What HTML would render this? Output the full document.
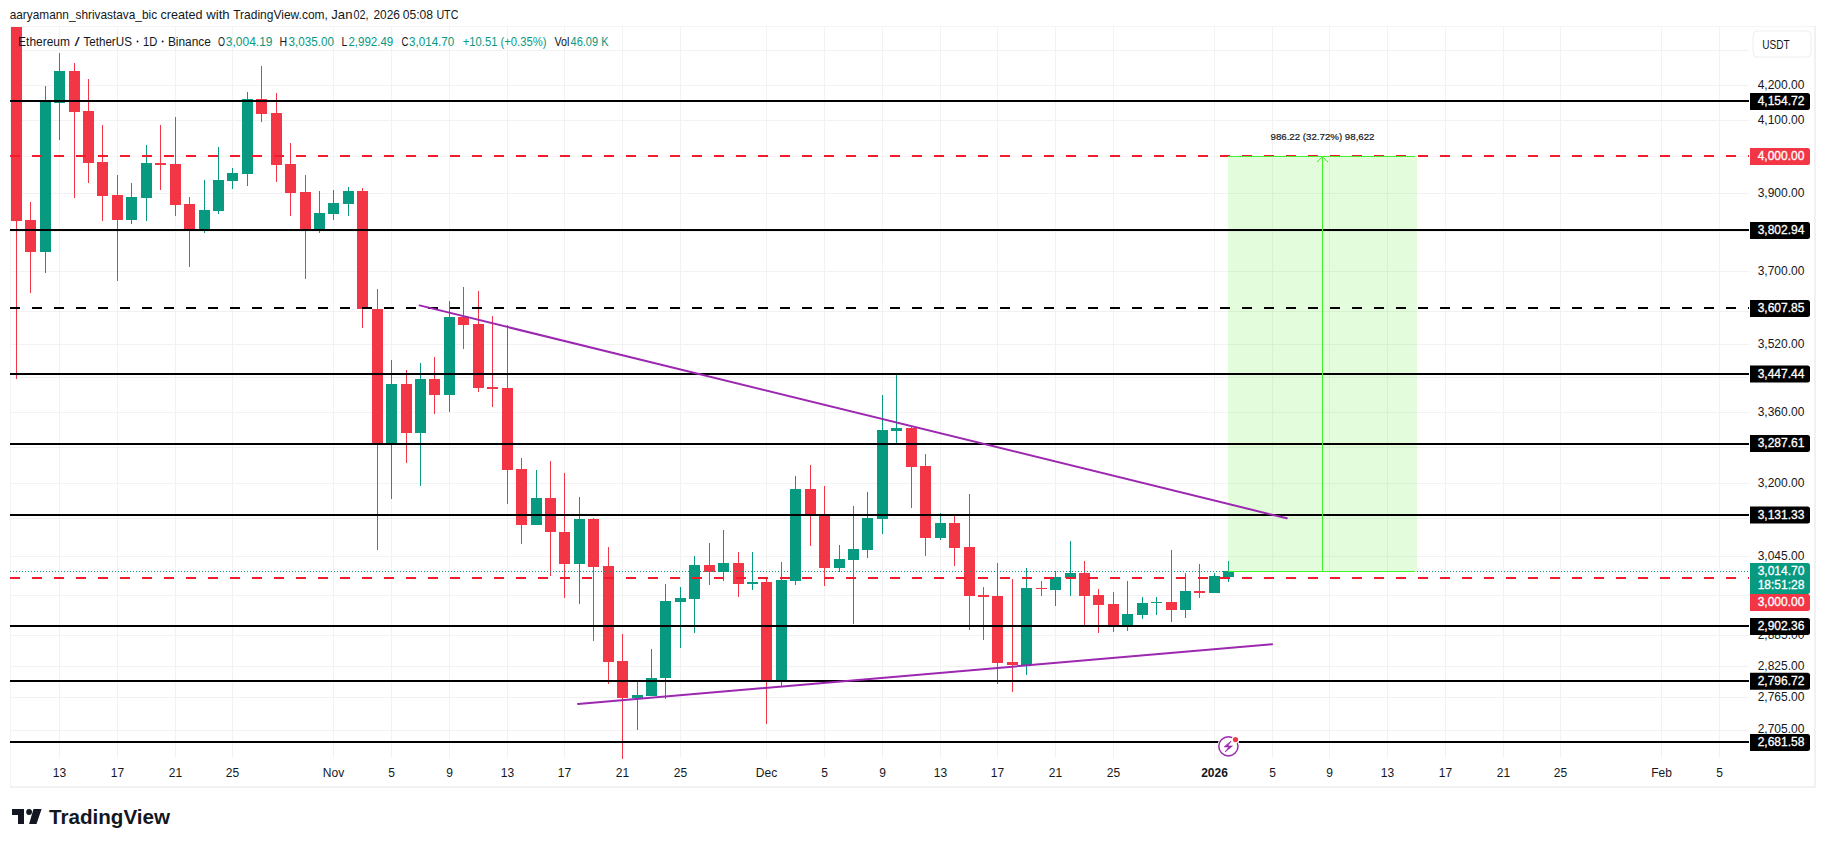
<!DOCTYPE html><html><head><meta charset="utf-8"><style>
html,body{margin:0;padding:0;background:#fff;width:1825px;height:847px;overflow:hidden}
svg{display:block}
text{font-family:"Liberation Sans", sans-serif}
</style></head><body>
<svg width="1825" height="847" viewBox="0 0 1825 847">
<g font-size="13" fill="#131722">
<text x="9.700000000000001" y="19" textLength="147.39999999999998" lengthAdjust="spacingAndGlyphs">aaryamann_shrivastava_bic</text>
<text x="160.5" y="19" textLength="42.000000000000014" lengthAdjust="spacingAndGlyphs">created</text>
<text x="206.3" y="19" textLength="23.399999999999988" lengthAdjust="spacingAndGlyphs">with</text>
<text x="233.20000000000002" y="19" textLength="94.7" lengthAdjust="spacingAndGlyphs">TradingView.com,</text>
<text x="331.29999999999995" y="19" textLength="21.2" lengthAdjust="spacingAndGlyphs">Jan</text>
<text x="353.59999999999997" y="19" textLength="15.00000000000001" lengthAdjust="spacingAndGlyphs">02,</text>
<text x="373.5" y="19" textLength="26.499999999999954" lengthAdjust="spacingAndGlyphs">2026</text>
<text x="402.7" y="19" textLength="30.299999999999965" lengthAdjust="spacingAndGlyphs">05:08</text>
<text x="436.4" y="19" textLength="22.00000000000001" lengthAdjust="spacingAndGlyphs">UTC</text>
</g>
<g shape-rendering="crispEdges">
<rect x="10" y="26" width="1805" height="1" fill="#f3f4f6"/>
<rect x="10" y="26" width="1" height="762" fill="#f3f4f6"/>
<rect x="1814" y="26" width="2" height="762" fill="#f0f1f3"/>
<rect x="10" y="786" width="1806" height="2" fill="#f0f1f3"/>
<rect x="59" y="27" width="1" height="731" fill="#f2f2f3"/>
<rect x="117" y="27" width="1" height="731" fill="#f2f2f3"/>
<rect x="175" y="27" width="1" height="731" fill="#f2f2f3"/>
<rect x="232" y="27" width="1" height="731" fill="#f2f2f3"/>
<rect x="333" y="27" width="1" height="731" fill="#f2f2f3"/>
<rect x="391" y="27" width="1" height="731" fill="#f2f2f3"/>
<rect x="449" y="27" width="1" height="731" fill="#f2f2f3"/>
<rect x="507" y="27" width="1" height="731" fill="#f2f2f3"/>
<rect x="564" y="27" width="1" height="731" fill="#f2f2f3"/>
<rect x="622" y="27" width="1" height="731" fill="#f2f2f3"/>
<rect x="680" y="27" width="1" height="731" fill="#f2f2f3"/>
<rect x="766" y="27" width="1" height="731" fill="#f2f2f3"/>
<rect x="824" y="27" width="1" height="731" fill="#f2f2f3"/>
<rect x="882" y="27" width="1" height="731" fill="#f2f2f3"/>
<rect x="940" y="27" width="1" height="731" fill="#f2f2f3"/>
<rect x="997" y="27" width="1" height="731" fill="#f2f2f3"/>
<rect x="1055" y="27" width="1" height="731" fill="#f2f2f3"/>
<rect x="1113" y="27" width="1" height="731" fill="#f2f2f3"/>
<rect x="1214" y="27" width="1" height="731" fill="#f2f2f3"/>
<rect x="1272" y="27" width="1" height="731" fill="#f2f2f3"/>
<rect x="1329" y="27" width="1" height="731" fill="#f2f2f3"/>
<rect x="1387" y="27" width="1" height="731" fill="#f2f2f3"/>
<rect x="1445" y="27" width="1" height="731" fill="#f2f2f3"/>
<rect x="1503" y="27" width="1" height="731" fill="#f2f2f3"/>
<rect x="1560" y="27" width="1" height="731" fill="#f2f2f3"/>
<rect x="1661" y="27" width="1" height="731" fill="#f2f2f3"/>
<rect x="1719" y="27" width="1" height="731" fill="#f2f2f3"/>
<rect x="11" y="50" width="1738" height="1" fill="#f2f2f3"/>
<rect x="11" y="85" width="1738" height="1" fill="#f2f2f3"/>
<rect x="11" y="120" width="1738" height="1" fill="#f2f2f3"/>
<rect x="11" y="156" width="1738" height="1" fill="#f2f2f3"/>
<rect x="11" y="193" width="1738" height="1" fill="#f2f2f3"/>
<rect x="11" y="231" width="1738" height="1" fill="#f2f2f3"/>
<rect x="11" y="271" width="1738" height="1" fill="#f2f2f3"/>
<rect x="11" y="311" width="1738" height="1" fill="#f2f2f3"/>
<rect x="11" y="344" width="1738" height="1" fill="#f2f2f3"/>
<rect x="11" y="377" width="1738" height="1" fill="#f2f2f3"/>
<rect x="11" y="412" width="1738" height="1" fill="#f2f2f3"/>
<rect x="11" y="447" width="1738" height="1" fill="#f2f2f3"/>
<rect x="11" y="483" width="1738" height="1" fill="#f2f2f3"/>
<rect x="11" y="518" width="1738" height="1" fill="#f2f2f3"/>
<rect x="11" y="556" width="1738" height="1" fill="#f2f2f3"/>
<rect x="11" y="595" width="1738" height="1" fill="#f2f2f3"/>
<rect x="11" y="635" width="1738" height="1" fill="#f2f2f3"/>
<rect x="11" y="666" width="1738" height="1" fill="#f2f2f3"/>
<rect x="11" y="697" width="1738" height="1" fill="#f2f2f3"/>
<rect x="11" y="730" width="1738" height="1" fill="#f2f2f3"/>
</g>
<g shape-rendering="crispEdges">
<rect x="16" y="27" width="1" height="352" fill="#f23645"/>
<rect x="11" y="27" width="11" height="194" fill="#f23645"/>
<rect x="30" y="202" width="1" height="91" fill="#f23645"/>
<rect x="25" y="220" width="11" height="32" fill="#f23645"/>
<rect x="45" y="86" width="1" height="187" fill="#089981"/>
<rect x="40" y="102" width="11" height="150" fill="#089981"/>
<rect x="59" y="53" width="1" height="87" fill="#089981"/>
<rect x="54" y="71" width="11" height="32" fill="#089981"/>
<rect x="74" y="63" width="1" height="135" fill="#f23645"/>
<rect x="69" y="71" width="11" height="41" fill="#f23645"/>
<rect x="88" y="79" width="1" height="104" fill="#f23645"/>
<rect x="83" y="111" width="11" height="52" fill="#f23645"/>
<rect x="102" y="125" width="1" height="96" fill="#f23645"/>
<rect x="97" y="162" width="11" height="34" fill="#f23645"/>
<rect x="117" y="175" width="1" height="106" fill="#f23645"/>
<rect x="112" y="195" width="11" height="25" fill="#f23645"/>
<rect x="131" y="183" width="1" height="41" fill="#089981"/>
<rect x="126" y="197" width="11" height="23" fill="#089981"/>
<rect x="146" y="145" width="1" height="76" fill="#089981"/>
<rect x="141" y="163" width="11" height="35" fill="#089981"/>
<rect x="160" y="125" width="1" height="65" fill="#f23645"/>
<rect x="155" y="163" width="11" height="2" fill="#f23645"/>
<rect x="175" y="117" width="1" height="99" fill="#f23645"/>
<rect x="170" y="164" width="11" height="41" fill="#f23645"/>
<rect x="189" y="197" width="1" height="70" fill="#f23645"/>
<rect x="184" y="204" width="11" height="26" fill="#f23645"/>
<rect x="204" y="180" width="1" height="53" fill="#089981"/>
<rect x="199" y="210" width="11" height="20" fill="#089981"/>
<rect x="218" y="147" width="1" height="67" fill="#089981"/>
<rect x="213" y="180" width="11" height="31" fill="#089981"/>
<rect x="232" y="168" width="1" height="21" fill="#089981"/>
<rect x="227" y="173" width="11" height="8" fill="#089981"/>
<rect x="247" y="92" width="1" height="94" fill="#089981"/>
<rect x="242" y="99" width="11" height="75" fill="#089981"/>
<rect x="261" y="66" width="1" height="56" fill="#f23645"/>
<rect x="256" y="99" width="11" height="15" fill="#f23645"/>
<rect x="276" y="93" width="1" height="89" fill="#f23645"/>
<rect x="271" y="113" width="11" height="52" fill="#f23645"/>
<rect x="290" y="143" width="1" height="73" fill="#f23645"/>
<rect x="285" y="164" width="11" height="29" fill="#f23645"/>
<rect x="305" y="175" width="1" height="104" fill="#f23645"/>
<rect x="300" y="192" width="11" height="37" fill="#f23645"/>
<rect x="319" y="191" width="1" height="42" fill="#089981"/>
<rect x="314" y="213" width="11" height="16" fill="#089981"/>
<rect x="333" y="190" width="1" height="30" fill="#089981"/>
<rect x="328" y="203" width="11" height="11" fill="#089981"/>
<rect x="348" y="187" width="1" height="29" fill="#089981"/>
<rect x="343" y="191" width="11" height="13" fill="#089981"/>
<rect x="362" y="188" width="1" height="140" fill="#f23645"/>
<rect x="357" y="191" width="11" height="118" fill="#f23645"/>
<rect x="377" y="289" width="1" height="261" fill="#f23645"/>
<rect x="372" y="309" width="11" height="134" fill="#f23645"/>
<rect x="391" y="360" width="1" height="139" fill="#089981"/>
<rect x="386" y="384" width="11" height="59" fill="#089981"/>
<rect x="406" y="370" width="1" height="93" fill="#f23645"/>
<rect x="401" y="384" width="11" height="49" fill="#f23645"/>
<rect x="420" y="363" width="1" height="123" fill="#089981"/>
<rect x="415" y="379" width="11" height="54" fill="#089981"/>
<rect x="434" y="357" width="1" height="57" fill="#f23645"/>
<rect x="429" y="379" width="11" height="16" fill="#f23645"/>
<rect x="449" y="301" width="1" height="111" fill="#089981"/>
<rect x="444" y="317" width="11" height="78" fill="#089981"/>
<rect x="463" y="287" width="1" height="62" fill="#f23645"/>
<rect x="458" y="317" width="11" height="8" fill="#f23645"/>
<rect x="478" y="291" width="1" height="101" fill="#f23645"/>
<rect x="473" y="324" width="11" height="64" fill="#f23645"/>
<rect x="492" y="316" width="1" height="91" fill="#f23645"/>
<rect x="487" y="387" width="11" height="2" fill="#f23645"/>
<rect x="507" y="325" width="1" height="179" fill="#f23645"/>
<rect x="502" y="388" width="11" height="82" fill="#f23645"/>
<rect x="521" y="458" width="1" height="86" fill="#f23645"/>
<rect x="516" y="469" width="11" height="56" fill="#f23645"/>
<rect x="536" y="470" width="1" height="55" fill="#089981"/>
<rect x="531" y="498" width="11" height="27" fill="#089981"/>
<rect x="550" y="461" width="1" height="115" fill="#f23645"/>
<rect x="545" y="498" width="11" height="34" fill="#f23645"/>
<rect x="564" y="473" width="1" height="125" fill="#f23645"/>
<rect x="559" y="532" width="11" height="32" fill="#f23645"/>
<rect x="579" y="497" width="1" height="107" fill="#089981"/>
<rect x="574" y="519" width="11" height="45" fill="#089981"/>
<rect x="593" y="518" width="1" height="123" fill="#f23645"/>
<rect x="588" y="519" width="11" height="48" fill="#f23645"/>
<rect x="608" y="547" width="1" height="137" fill="#f23645"/>
<rect x="603" y="566" width="11" height="96" fill="#f23645"/>
<rect x="622" y="634" width="1" height="125" fill="#f23645"/>
<rect x="617" y="661" width="11" height="37" fill="#f23645"/>
<rect x="637" y="682" width="1" height="48" fill="#089981"/>
<rect x="632" y="695" width="11" height="3" fill="#089981"/>
<rect x="651" y="649" width="1" height="47" fill="#089981"/>
<rect x="646" y="678" width="11" height="18" fill="#089981"/>
<rect x="665" y="584" width="1" height="115" fill="#089981"/>
<rect x="660" y="601" width="11" height="77" fill="#089981"/>
<rect x="680" y="587" width="1" height="61" fill="#089981"/>
<rect x="675" y="598" width="11" height="4" fill="#089981"/>
<rect x="694" y="556" width="1" height="77" fill="#089981"/>
<rect x="689" y="565" width="11" height="34" fill="#089981"/>
<rect x="709" y="543" width="1" height="42" fill="#f23645"/>
<rect x="704" y="565" width="11" height="7" fill="#f23645"/>
<rect x="723" y="530" width="1" height="51" fill="#089981"/>
<rect x="718" y="563" width="11" height="9" fill="#089981"/>
<rect x="738" y="552" width="1" height="45" fill="#f23645"/>
<rect x="733" y="563" width="11" height="21" fill="#f23645"/>
<rect x="752" y="552" width="1" height="38" fill="#089981"/>
<rect x="747" y="582" width="11" height="2" fill="#089981"/>
<rect x="766" y="578" width="1" height="146" fill="#f23645"/>
<rect x="761" y="582" width="11" height="98" fill="#f23645"/>
<rect x="781" y="562" width="1" height="125" fill="#089981"/>
<rect x="776" y="580" width="11" height="100" fill="#089981"/>
<rect x="795" y="476" width="1" height="109" fill="#089981"/>
<rect x="790" y="489" width="11" height="92" fill="#089981"/>
<rect x="810" y="465" width="1" height="81" fill="#f23645"/>
<rect x="805" y="489" width="11" height="26" fill="#f23645"/>
<rect x="824" y="486" width="1" height="100" fill="#f23645"/>
<rect x="819" y="515" width="11" height="53" fill="#f23645"/>
<rect x="839" y="545" width="1" height="27" fill="#089981"/>
<rect x="834" y="559" width="11" height="9" fill="#089981"/>
<rect x="853" y="506" width="1" height="118" fill="#089981"/>
<rect x="848" y="549" width="11" height="11" fill="#089981"/>
<rect x="867" y="492" width="1" height="66" fill="#089981"/>
<rect x="862" y="518" width="11" height="32" fill="#089981"/>
<rect x="882" y="395" width="1" height="139" fill="#089981"/>
<rect x="877" y="430" width="11" height="89" fill="#089981"/>
<rect x="896" y="375" width="1" height="68" fill="#089981"/>
<rect x="891" y="428" width="11" height="3" fill="#089981"/>
<rect x="911" y="427" width="1" height="81" fill="#f23645"/>
<rect x="906" y="428" width="11" height="39" fill="#f23645"/>
<rect x="925" y="454" width="1" height="102" fill="#f23645"/>
<rect x="920" y="466" width="11" height="72" fill="#f23645"/>
<rect x="940" y="513" width="1" height="27" fill="#089981"/>
<rect x="935" y="523" width="11" height="15" fill="#089981"/>
<rect x="954" y="516" width="1" height="50" fill="#f23645"/>
<rect x="949" y="523" width="11" height="25" fill="#f23645"/>
<rect x="969" y="494" width="1" height="136" fill="#f23645"/>
<rect x="964" y="547" width="11" height="49" fill="#f23645"/>
<rect x="983" y="587" width="1" height="53" fill="#f23645"/>
<rect x="978" y="595" width="11" height="2" fill="#f23645"/>
<rect x="997" y="563" width="1" height="121" fill="#f23645"/>
<rect x="992" y="596" width="11" height="67" fill="#f23645"/>
<rect x="1012" y="579" width="1" height="113" fill="#f23645"/>
<rect x="1007" y="662" width="11" height="3" fill="#f23645"/>
<rect x="1026" y="568" width="1" height="107" fill="#089981"/>
<rect x="1021" y="588" width="11" height="77" fill="#089981"/>
<rect x="1041" y="581" width="1" height="15" fill="#f23645"/>
<rect x="1036" y="588" width="11" height="1" fill="#f23645"/>
<rect x="1055" y="571" width="1" height="35" fill="#089981"/>
<rect x="1050" y="577" width="11" height="13" fill="#089981"/>
<rect x="1070" y="541" width="1" height="55" fill="#089981"/>
<rect x="1065" y="573" width="11" height="5" fill="#089981"/>
<rect x="1084" y="561" width="1" height="64" fill="#f23645"/>
<rect x="1079" y="573" width="11" height="23" fill="#f23645"/>
<rect x="1098" y="589" width="1" height="44" fill="#f23645"/>
<rect x="1093" y="595" width="11" height="10" fill="#f23645"/>
<rect x="1113" y="592" width="1" height="40" fill="#f23645"/>
<rect x="1108" y="604" width="11" height="21" fill="#f23645"/>
<rect x="1127" y="581" width="1" height="50" fill="#089981"/>
<rect x="1122" y="614" width="11" height="11" fill="#089981"/>
<rect x="1142" y="597" width="1" height="22" fill="#089981"/>
<rect x="1137" y="603" width="11" height="12" fill="#089981"/>
<rect x="1156" y="597" width="1" height="18" fill="#089981"/>
<rect x="1151" y="602" width="11" height="1" fill="#089981"/>
<rect x="1171" y="550" width="1" height="72" fill="#f23645"/>
<rect x="1166" y="602" width="11" height="8" fill="#f23645"/>
<rect x="1185" y="573" width="1" height="45" fill="#089981"/>
<rect x="1180" y="591" width="11" height="19" fill="#089981"/>
<rect x="1199" y="564" width="1" height="34" fill="#f23645"/>
<rect x="1194" y="591" width="11" height="2" fill="#f23645"/>
<rect x="1214" y="573" width="1" height="20" fill="#089981"/>
<rect x="1209" y="576" width="11" height="17" fill="#089981"/>
<rect x="1228" y="561" width="1" height="21" fill="#089981"/>
<rect x="1223" y="571" width="11" height="6" fill="#089981"/>
</g>
<rect x="1228" y="156" width="189" height="415.5" fill="rgba(76,235,40,0.16)"/>
<g shape-rendering="crispEdges">
<rect x="10" y="100" width="1739" height="2" fill="#000"/>
<rect x="10" y="229" width="1739" height="2" fill="#000"/>
<rect x="10" y="373" width="1739" height="2" fill="#000"/>
<rect x="10" y="443" width="1739" height="2" fill="#000"/>
<rect x="10" y="514" width="1739" height="2" fill="#000"/>
<rect x="10" y="625" width="1739" height="2" fill="#000"/>
<rect x="10" y="680" width="1739" height="2" fill="#000"/>
<rect x="10" y="741" width="1739" height="2" fill="#000"/>
</g>
<g shape-rendering="crispEdges">
<rect x="10" y="307" width="10" height="2" fill="#000"/><rect x="32" y="307" width="10" height="2" fill="#000"/><rect x="54" y="307" width="10" height="2" fill="#000"/><rect x="76" y="307" width="10" height="2" fill="#000"/><rect x="98" y="307" width="10" height="2" fill="#000"/><rect x="120" y="307" width="10" height="2" fill="#000"/><rect x="142" y="307" width="10" height="2" fill="#000"/><rect x="164" y="307" width="10" height="2" fill="#000"/><rect x="186" y="307" width="10" height="2" fill="#000"/><rect x="208" y="307" width="10" height="2" fill="#000"/><rect x="230" y="307" width="10" height="2" fill="#000"/><rect x="252" y="307" width="10" height="2" fill="#000"/><rect x="274" y="307" width="10" height="2" fill="#000"/><rect x="296" y="307" width="10" height="2" fill="#000"/><rect x="318" y="307" width="10" height="2" fill="#000"/><rect x="340" y="307" width="10" height="2" fill="#000"/><rect x="362" y="307" width="10" height="2" fill="#000"/><rect x="384" y="307" width="10" height="2" fill="#000"/><rect x="406" y="307" width="10" height="2" fill="#000"/><rect x="428" y="307" width="10" height="2" fill="#000"/><rect x="450" y="307" width="10" height="2" fill="#000"/><rect x="472" y="307" width="10" height="2" fill="#000"/><rect x="494" y="307" width="10" height="2" fill="#000"/><rect x="516" y="307" width="10" height="2" fill="#000"/><rect x="538" y="307" width="10" height="2" fill="#000"/><rect x="560" y="307" width="10" height="2" fill="#000"/><rect x="582" y="307" width="10" height="2" fill="#000"/><rect x="604" y="307" width="10" height="2" fill="#000"/><rect x="626" y="307" width="10" height="2" fill="#000"/><rect x="648" y="307" width="10" height="2" fill="#000"/><rect x="670" y="307" width="10" height="2" fill="#000"/><rect x="692" y="307" width="10" height="2" fill="#000"/><rect x="714" y="307" width="10" height="2" fill="#000"/><rect x="736" y="307" width="10" height="2" fill="#000"/><rect x="758" y="307" width="10" height="2" fill="#000"/><rect x="780" y="307" width="10" height="2" fill="#000"/><rect x="802" y="307" width="10" height="2" fill="#000"/><rect x="824" y="307" width="10" height="2" fill="#000"/><rect x="846" y="307" width="10" height="2" fill="#000"/><rect x="868" y="307" width="10" height="2" fill="#000"/><rect x="890" y="307" width="10" height="2" fill="#000"/><rect x="912" y="307" width="10" height="2" fill="#000"/><rect x="934" y="307" width="10" height="2" fill="#000"/><rect x="956" y="307" width="10" height="2" fill="#000"/><rect x="978" y="307" width="10" height="2" fill="#000"/><rect x="1000" y="307" width="10" height="2" fill="#000"/><rect x="1022" y="307" width="10" height="2" fill="#000"/><rect x="1044" y="307" width="10" height="2" fill="#000"/><rect x="1066" y="307" width="10" height="2" fill="#000"/><rect x="1088" y="307" width="10" height="2" fill="#000"/><rect x="1110" y="307" width="10" height="2" fill="#000"/><rect x="1132" y="307" width="10" height="2" fill="#000"/><rect x="1154" y="307" width="10" height="2" fill="#000"/><rect x="1176" y="307" width="10" height="2" fill="#000"/><rect x="1198" y="307" width="10" height="2" fill="#000"/><rect x="1220" y="307" width="10" height="2" fill="#000"/><rect x="1242" y="307" width="10" height="2" fill="#000"/><rect x="1264" y="307" width="10" height="2" fill="#000"/><rect x="1286" y="307" width="10" height="2" fill="#000"/><rect x="1308" y="307" width="10" height="2" fill="#000"/><rect x="1330" y="307" width="10" height="2" fill="#000"/><rect x="1352" y="307" width="10" height="2" fill="#000"/><rect x="1374" y="307" width="10" height="2" fill="#000"/><rect x="1396" y="307" width="10" height="2" fill="#000"/><rect x="1418" y="307" width="10" height="2" fill="#000"/><rect x="1440" y="307" width="10" height="2" fill="#000"/><rect x="1462" y="307" width="10" height="2" fill="#000"/><rect x="1484" y="307" width="10" height="2" fill="#000"/><rect x="1506" y="307" width="10" height="2" fill="#000"/><rect x="1528" y="307" width="10" height="2" fill="#000"/><rect x="1550" y="307" width="10" height="2" fill="#000"/><rect x="1572" y="307" width="10" height="2" fill="#000"/><rect x="1594" y="307" width="10" height="2" fill="#000"/><rect x="1616" y="307" width="10" height="2" fill="#000"/><rect x="1638" y="307" width="10" height="2" fill="#000"/><rect x="1660" y="307" width="10" height="2" fill="#000"/><rect x="1682" y="307" width="10" height="2" fill="#000"/><rect x="1704" y="307" width="10" height="2" fill="#000"/><rect x="1726" y="307" width="10" height="2" fill="#000"/><rect x="1748" y="307" width="1" height="2" fill="#000"/>
<rect x="10" y="155" width="10" height="2" fill="#f01c2e"/><rect x="32" y="155" width="10" height="2" fill="#f01c2e"/><rect x="54" y="155" width="10" height="2" fill="#f01c2e"/><rect x="76" y="155" width="10" height="2" fill="#f01c2e"/><rect x="98" y="155" width="10" height="2" fill="#f01c2e"/><rect x="120" y="155" width="10" height="2" fill="#f01c2e"/><rect x="142" y="155" width="10" height="2" fill="#f01c2e"/><rect x="164" y="155" width="10" height="2" fill="#f01c2e"/><rect x="186" y="155" width="10" height="2" fill="#f01c2e"/><rect x="208" y="155" width="10" height="2" fill="#f01c2e"/><rect x="230" y="155" width="10" height="2" fill="#f01c2e"/><rect x="252" y="155" width="10" height="2" fill="#f01c2e"/><rect x="274" y="155" width="10" height="2" fill="#f01c2e"/><rect x="296" y="155" width="10" height="2" fill="#f01c2e"/><rect x="318" y="155" width="10" height="2" fill="#f01c2e"/><rect x="340" y="155" width="10" height="2" fill="#f01c2e"/><rect x="362" y="155" width="10" height="2" fill="#f01c2e"/><rect x="384" y="155" width="10" height="2" fill="#f01c2e"/><rect x="406" y="155" width="10" height="2" fill="#f01c2e"/><rect x="428" y="155" width="10" height="2" fill="#f01c2e"/><rect x="450" y="155" width="10" height="2" fill="#f01c2e"/><rect x="472" y="155" width="10" height="2" fill="#f01c2e"/><rect x="494" y="155" width="10" height="2" fill="#f01c2e"/><rect x="516" y="155" width="10" height="2" fill="#f01c2e"/><rect x="538" y="155" width="10" height="2" fill="#f01c2e"/><rect x="560" y="155" width="10" height="2" fill="#f01c2e"/><rect x="582" y="155" width="10" height="2" fill="#f01c2e"/><rect x="604" y="155" width="10" height="2" fill="#f01c2e"/><rect x="626" y="155" width="10" height="2" fill="#f01c2e"/><rect x="648" y="155" width="10" height="2" fill="#f01c2e"/><rect x="670" y="155" width="10" height="2" fill="#f01c2e"/><rect x="692" y="155" width="10" height="2" fill="#f01c2e"/><rect x="714" y="155" width="10" height="2" fill="#f01c2e"/><rect x="736" y="155" width="10" height="2" fill="#f01c2e"/><rect x="758" y="155" width="10" height="2" fill="#f01c2e"/><rect x="780" y="155" width="10" height="2" fill="#f01c2e"/><rect x="802" y="155" width="10" height="2" fill="#f01c2e"/><rect x="824" y="155" width="10" height="2" fill="#f01c2e"/><rect x="846" y="155" width="10" height="2" fill="#f01c2e"/><rect x="868" y="155" width="10" height="2" fill="#f01c2e"/><rect x="890" y="155" width="10" height="2" fill="#f01c2e"/><rect x="912" y="155" width="10" height="2" fill="#f01c2e"/><rect x="934" y="155" width="10" height="2" fill="#f01c2e"/><rect x="956" y="155" width="10" height="2" fill="#f01c2e"/><rect x="978" y="155" width="10" height="2" fill="#f01c2e"/><rect x="1000" y="155" width="10" height="2" fill="#f01c2e"/><rect x="1022" y="155" width="10" height="2" fill="#f01c2e"/><rect x="1044" y="155" width="10" height="2" fill="#f01c2e"/><rect x="1066" y="155" width="10" height="2" fill="#f01c2e"/><rect x="1088" y="155" width="10" height="2" fill="#f01c2e"/><rect x="1110" y="155" width="10" height="2" fill="#f01c2e"/><rect x="1132" y="155" width="10" height="2" fill="#f01c2e"/><rect x="1154" y="155" width="10" height="2" fill="#f01c2e"/><rect x="1176" y="155" width="10" height="2" fill="#f01c2e"/><rect x="1198" y="155" width="10" height="2" fill="#f01c2e"/><rect x="1220" y="155" width="10" height="2" fill="#f01c2e"/><rect x="1242" y="155" width="10" height="2" fill="#f01c2e"/><rect x="1264" y="155" width="10" height="2" fill="#f01c2e"/><rect x="1286" y="155" width="10" height="2" fill="#f01c2e"/><rect x="1308" y="155" width="10" height="2" fill="#f01c2e"/><rect x="1330" y="155" width="10" height="2" fill="#f01c2e"/><rect x="1352" y="155" width="10" height="2" fill="#f01c2e"/><rect x="1374" y="155" width="10" height="2" fill="#f01c2e"/><rect x="1396" y="155" width="10" height="2" fill="#f01c2e"/><rect x="1418" y="155" width="10" height="2" fill="#f01c2e"/><rect x="1440" y="155" width="10" height="2" fill="#f01c2e"/><rect x="1462" y="155" width="10" height="2" fill="#f01c2e"/><rect x="1484" y="155" width="10" height="2" fill="#f01c2e"/><rect x="1506" y="155" width="10" height="2" fill="#f01c2e"/><rect x="1528" y="155" width="10" height="2" fill="#f01c2e"/><rect x="1550" y="155" width="10" height="2" fill="#f01c2e"/><rect x="1572" y="155" width="10" height="2" fill="#f01c2e"/><rect x="1594" y="155" width="10" height="2" fill="#f01c2e"/><rect x="1616" y="155" width="10" height="2" fill="#f01c2e"/><rect x="1638" y="155" width="10" height="2" fill="#f01c2e"/><rect x="1660" y="155" width="10" height="2" fill="#f01c2e"/><rect x="1682" y="155" width="10" height="2" fill="#f01c2e"/><rect x="1704" y="155" width="10" height="2" fill="#f01c2e"/><rect x="1726" y="155" width="10" height="2" fill="#f01c2e"/><rect x="1748" y="155" width="1" height="2" fill="#f01c2e"/>
<rect x="10" y="577" width="10" height="2" fill="#f01c2e"/><rect x="32" y="577" width="10" height="2" fill="#f01c2e"/><rect x="54" y="577" width="10" height="2" fill="#f01c2e"/><rect x="76" y="577" width="10" height="2" fill="#f01c2e"/><rect x="98" y="577" width="10" height="2" fill="#f01c2e"/><rect x="120" y="577" width="10" height="2" fill="#f01c2e"/><rect x="142" y="577" width="10" height="2" fill="#f01c2e"/><rect x="164" y="577" width="10" height="2" fill="#f01c2e"/><rect x="186" y="577" width="10" height="2" fill="#f01c2e"/><rect x="208" y="577" width="10" height="2" fill="#f01c2e"/><rect x="230" y="577" width="10" height="2" fill="#f01c2e"/><rect x="252" y="577" width="10" height="2" fill="#f01c2e"/><rect x="274" y="577" width="10" height="2" fill="#f01c2e"/><rect x="296" y="577" width="10" height="2" fill="#f01c2e"/><rect x="318" y="577" width="10" height="2" fill="#f01c2e"/><rect x="340" y="577" width="10" height="2" fill="#f01c2e"/><rect x="362" y="577" width="10" height="2" fill="#f01c2e"/><rect x="384" y="577" width="10" height="2" fill="#f01c2e"/><rect x="406" y="577" width="10" height="2" fill="#f01c2e"/><rect x="428" y="577" width="10" height="2" fill="#f01c2e"/><rect x="450" y="577" width="10" height="2" fill="#f01c2e"/><rect x="472" y="577" width="10" height="2" fill="#f01c2e"/><rect x="494" y="577" width="10" height="2" fill="#f01c2e"/><rect x="516" y="577" width="10" height="2" fill="#f01c2e"/><rect x="538" y="577" width="10" height="2" fill="#f01c2e"/><rect x="560" y="577" width="10" height="2" fill="#f01c2e"/><rect x="582" y="577" width="10" height="2" fill="#f01c2e"/><rect x="604" y="577" width="10" height="2" fill="#f01c2e"/><rect x="626" y="577" width="10" height="2" fill="#f01c2e"/><rect x="648" y="577" width="10" height="2" fill="#f01c2e"/><rect x="670" y="577" width="10" height="2" fill="#f01c2e"/><rect x="692" y="577" width="10" height="2" fill="#f01c2e"/><rect x="714" y="577" width="10" height="2" fill="#f01c2e"/><rect x="736" y="577" width="10" height="2" fill="#f01c2e"/><rect x="758" y="577" width="10" height="2" fill="#f01c2e"/><rect x="780" y="577" width="10" height="2" fill="#f01c2e"/><rect x="802" y="577" width="10" height="2" fill="#f01c2e"/><rect x="824" y="577" width="10" height="2" fill="#f01c2e"/><rect x="846" y="577" width="10" height="2" fill="#f01c2e"/><rect x="868" y="577" width="10" height="2" fill="#f01c2e"/><rect x="890" y="577" width="10" height="2" fill="#f01c2e"/><rect x="912" y="577" width="10" height="2" fill="#f01c2e"/><rect x="934" y="577" width="10" height="2" fill="#f01c2e"/><rect x="956" y="577" width="10" height="2" fill="#f01c2e"/><rect x="978" y="577" width="10" height="2" fill="#f01c2e"/><rect x="1000" y="577" width="10" height="2" fill="#f01c2e"/><rect x="1022" y="577" width="10" height="2" fill="#f01c2e"/><rect x="1044" y="577" width="10" height="2" fill="#f01c2e"/><rect x="1066" y="577" width="10" height="2" fill="#f01c2e"/><rect x="1088" y="577" width="10" height="2" fill="#f01c2e"/><rect x="1110" y="577" width="10" height="2" fill="#f01c2e"/><rect x="1132" y="577" width="10" height="2" fill="#f01c2e"/><rect x="1154" y="577" width="10" height="2" fill="#f01c2e"/><rect x="1176" y="577" width="10" height="2" fill="#f01c2e"/><rect x="1198" y="577" width="10" height="2" fill="#f01c2e"/><rect x="1220" y="577" width="10" height="2" fill="#f01c2e"/><rect x="1242" y="577" width="10" height="2" fill="#f01c2e"/><rect x="1264" y="577" width="10" height="2" fill="#f01c2e"/><rect x="1286" y="577" width="10" height="2" fill="#f01c2e"/><rect x="1308" y="577" width="10" height="2" fill="#f01c2e"/><rect x="1330" y="577" width="10" height="2" fill="#f01c2e"/><rect x="1352" y="577" width="10" height="2" fill="#f01c2e"/><rect x="1374" y="577" width="10" height="2" fill="#f01c2e"/><rect x="1396" y="577" width="10" height="2" fill="#f01c2e"/><rect x="1418" y="577" width="10" height="2" fill="#f01c2e"/><rect x="1440" y="577" width="10" height="2" fill="#f01c2e"/><rect x="1462" y="577" width="10" height="2" fill="#f01c2e"/><rect x="1484" y="577" width="10" height="2" fill="#f01c2e"/><rect x="1506" y="577" width="10" height="2" fill="#f01c2e"/><rect x="1528" y="577" width="10" height="2" fill="#f01c2e"/><rect x="1550" y="577" width="10" height="2" fill="#f01c2e"/><rect x="1572" y="577" width="10" height="2" fill="#f01c2e"/><rect x="1594" y="577" width="10" height="2" fill="#f01c2e"/><rect x="1616" y="577" width="10" height="2" fill="#f01c2e"/><rect x="1638" y="577" width="10" height="2" fill="#f01c2e"/><rect x="1660" y="577" width="10" height="2" fill="#f01c2e"/><rect x="1682" y="577" width="10" height="2" fill="#f01c2e"/><rect x="1704" y="577" width="10" height="2" fill="#f01c2e"/><rect x="1726" y="577" width="10" height="2" fill="#f01c2e"/><rect x="1748" y="577" width="1" height="2" fill="#f01c2e"/>
<rect x="10" y="571" width="1" height="1" fill="#089981"/><rect x="13" y="571" width="1" height="1" fill="#089981"/><rect x="16" y="571" width="1" height="1" fill="#089981"/><rect x="19" y="571" width="1" height="1" fill="#089981"/><rect x="22" y="571" width="1" height="1" fill="#089981"/><rect x="25" y="571" width="1" height="1" fill="#089981"/><rect x="28" y="571" width="1" height="1" fill="#089981"/><rect x="31" y="571" width="1" height="1" fill="#089981"/><rect x="34" y="571" width="1" height="1" fill="#089981"/><rect x="37" y="571" width="1" height="1" fill="#089981"/><rect x="40" y="571" width="1" height="1" fill="#089981"/><rect x="43" y="571" width="1" height="1" fill="#089981"/><rect x="46" y="571" width="1" height="1" fill="#089981"/><rect x="49" y="571" width="1" height="1" fill="#089981"/><rect x="52" y="571" width="1" height="1" fill="#089981"/><rect x="55" y="571" width="1" height="1" fill="#089981"/><rect x="58" y="571" width="1" height="1" fill="#089981"/><rect x="61" y="571" width="1" height="1" fill="#089981"/><rect x="64" y="571" width="1" height="1" fill="#089981"/><rect x="67" y="571" width="1" height="1" fill="#089981"/><rect x="70" y="571" width="1" height="1" fill="#089981"/><rect x="73" y="571" width="1" height="1" fill="#089981"/><rect x="76" y="571" width="1" height="1" fill="#089981"/><rect x="79" y="571" width="1" height="1" fill="#089981"/><rect x="82" y="571" width="1" height="1" fill="#089981"/><rect x="85" y="571" width="1" height="1" fill="#089981"/><rect x="88" y="571" width="1" height="1" fill="#089981"/><rect x="91" y="571" width="1" height="1" fill="#089981"/><rect x="94" y="571" width="1" height="1" fill="#089981"/><rect x="97" y="571" width="1" height="1" fill="#089981"/><rect x="100" y="571" width="1" height="1" fill="#089981"/><rect x="103" y="571" width="1" height="1" fill="#089981"/><rect x="106" y="571" width="1" height="1" fill="#089981"/><rect x="109" y="571" width="1" height="1" fill="#089981"/><rect x="112" y="571" width="1" height="1" fill="#089981"/><rect x="115" y="571" width="1" height="1" fill="#089981"/><rect x="118" y="571" width="1" height="1" fill="#089981"/><rect x="121" y="571" width="1" height="1" fill="#089981"/><rect x="124" y="571" width="1" height="1" fill="#089981"/><rect x="127" y="571" width="1" height="1" fill="#089981"/><rect x="130" y="571" width="1" height="1" fill="#089981"/><rect x="133" y="571" width="1" height="1" fill="#089981"/><rect x="136" y="571" width="1" height="1" fill="#089981"/><rect x="139" y="571" width="1" height="1" fill="#089981"/><rect x="142" y="571" width="1" height="1" fill="#089981"/><rect x="145" y="571" width="1" height="1" fill="#089981"/><rect x="148" y="571" width="1" height="1" fill="#089981"/><rect x="151" y="571" width="1" height="1" fill="#089981"/><rect x="154" y="571" width="1" height="1" fill="#089981"/><rect x="157" y="571" width="1" height="1" fill="#089981"/><rect x="160" y="571" width="1" height="1" fill="#089981"/><rect x="163" y="571" width="1" height="1" fill="#089981"/><rect x="166" y="571" width="1" height="1" fill="#089981"/><rect x="169" y="571" width="1" height="1" fill="#089981"/><rect x="172" y="571" width="1" height="1" fill="#089981"/><rect x="175" y="571" width="1" height="1" fill="#089981"/><rect x="178" y="571" width="1" height="1" fill="#089981"/><rect x="181" y="571" width="1" height="1" fill="#089981"/><rect x="184" y="571" width="1" height="1" fill="#089981"/><rect x="187" y="571" width="1" height="1" fill="#089981"/><rect x="190" y="571" width="1" height="1" fill="#089981"/><rect x="193" y="571" width="1" height="1" fill="#089981"/><rect x="196" y="571" width="1" height="1" fill="#089981"/><rect x="199" y="571" width="1" height="1" fill="#089981"/><rect x="202" y="571" width="1" height="1" fill="#089981"/><rect x="205" y="571" width="1" height="1" fill="#089981"/><rect x="208" y="571" width="1" height="1" fill="#089981"/><rect x="211" y="571" width="1" height="1" fill="#089981"/><rect x="214" y="571" width="1" height="1" fill="#089981"/><rect x="217" y="571" width="1" height="1" fill="#089981"/><rect x="220" y="571" width="1" height="1" fill="#089981"/><rect x="223" y="571" width="1" height="1" fill="#089981"/><rect x="226" y="571" width="1" height="1" fill="#089981"/><rect x="229" y="571" width="1" height="1" fill="#089981"/><rect x="232" y="571" width="1" height="1" fill="#089981"/><rect x="235" y="571" width="1" height="1" fill="#089981"/><rect x="238" y="571" width="1" height="1" fill="#089981"/><rect x="241" y="571" width="1" height="1" fill="#089981"/><rect x="244" y="571" width="1" height="1" fill="#089981"/><rect x="247" y="571" width="1" height="1" fill="#089981"/><rect x="250" y="571" width="1" height="1" fill="#089981"/><rect x="253" y="571" width="1" height="1" fill="#089981"/><rect x="256" y="571" width="1" height="1" fill="#089981"/><rect x="259" y="571" width="1" height="1" fill="#089981"/><rect x="262" y="571" width="1" height="1" fill="#089981"/><rect x="265" y="571" width="1" height="1" fill="#089981"/><rect x="268" y="571" width="1" height="1" fill="#089981"/><rect x="271" y="571" width="1" height="1" fill="#089981"/><rect x="274" y="571" width="1" height="1" fill="#089981"/><rect x="277" y="571" width="1" height="1" fill="#089981"/><rect x="280" y="571" width="1" height="1" fill="#089981"/><rect x="283" y="571" width="1" height="1" fill="#089981"/><rect x="286" y="571" width="1" height="1" fill="#089981"/><rect x="289" y="571" width="1" height="1" fill="#089981"/><rect x="292" y="571" width="1" height="1" fill="#089981"/><rect x="295" y="571" width="1" height="1" fill="#089981"/><rect x="298" y="571" width="1" height="1" fill="#089981"/><rect x="301" y="571" width="1" height="1" fill="#089981"/><rect x="304" y="571" width="1" height="1" fill="#089981"/><rect x="307" y="571" width="1" height="1" fill="#089981"/><rect x="310" y="571" width="1" height="1" fill="#089981"/><rect x="313" y="571" width="1" height="1" fill="#089981"/><rect x="316" y="571" width="1" height="1" fill="#089981"/><rect x="319" y="571" width="1" height="1" fill="#089981"/><rect x="322" y="571" width="1" height="1" fill="#089981"/><rect x="325" y="571" width="1" height="1" fill="#089981"/><rect x="328" y="571" width="1" height="1" fill="#089981"/><rect x="331" y="571" width="1" height="1" fill="#089981"/><rect x="334" y="571" width="1" height="1" fill="#089981"/><rect x="337" y="571" width="1" height="1" fill="#089981"/><rect x="340" y="571" width="1" height="1" fill="#089981"/><rect x="343" y="571" width="1" height="1" fill="#089981"/><rect x="346" y="571" width="1" height="1" fill="#089981"/><rect x="349" y="571" width="1" height="1" fill="#089981"/><rect x="352" y="571" width="1" height="1" fill="#089981"/><rect x="355" y="571" width="1" height="1" fill="#089981"/><rect x="358" y="571" width="1" height="1" fill="#089981"/><rect x="361" y="571" width="1" height="1" fill="#089981"/><rect x="364" y="571" width="1" height="1" fill="#089981"/><rect x="367" y="571" width="1" height="1" fill="#089981"/><rect x="370" y="571" width="1" height="1" fill="#089981"/><rect x="373" y="571" width="1" height="1" fill="#089981"/><rect x="376" y="571" width="1" height="1" fill="#089981"/><rect x="379" y="571" width="1" height="1" fill="#089981"/><rect x="382" y="571" width="1" height="1" fill="#089981"/><rect x="385" y="571" width="1" height="1" fill="#089981"/><rect x="388" y="571" width="1" height="1" fill="#089981"/><rect x="391" y="571" width="1" height="1" fill="#089981"/><rect x="394" y="571" width="1" height="1" fill="#089981"/><rect x="397" y="571" width="1" height="1" fill="#089981"/><rect x="400" y="571" width="1" height="1" fill="#089981"/><rect x="403" y="571" width="1" height="1" fill="#089981"/><rect x="406" y="571" width="1" height="1" fill="#089981"/><rect x="409" y="571" width="1" height="1" fill="#089981"/><rect x="412" y="571" width="1" height="1" fill="#089981"/><rect x="415" y="571" width="1" height="1" fill="#089981"/><rect x="418" y="571" width="1" height="1" fill="#089981"/><rect x="421" y="571" width="1" height="1" fill="#089981"/><rect x="424" y="571" width="1" height="1" fill="#089981"/><rect x="427" y="571" width="1" height="1" fill="#089981"/><rect x="430" y="571" width="1" height="1" fill="#089981"/><rect x="433" y="571" width="1" height="1" fill="#089981"/><rect x="436" y="571" width="1" height="1" fill="#089981"/><rect x="439" y="571" width="1" height="1" fill="#089981"/><rect x="442" y="571" width="1" height="1" fill="#089981"/><rect x="445" y="571" width="1" height="1" fill="#089981"/><rect x="448" y="571" width="1" height="1" fill="#089981"/><rect x="451" y="571" width="1" height="1" fill="#089981"/><rect x="454" y="571" width="1" height="1" fill="#089981"/><rect x="457" y="571" width="1" height="1" fill="#089981"/><rect x="460" y="571" width="1" height="1" fill="#089981"/><rect x="463" y="571" width="1" height="1" fill="#089981"/><rect x="466" y="571" width="1" height="1" fill="#089981"/><rect x="469" y="571" width="1" height="1" fill="#089981"/><rect x="472" y="571" width="1" height="1" fill="#089981"/><rect x="475" y="571" width="1" height="1" fill="#089981"/><rect x="478" y="571" width="1" height="1" fill="#089981"/><rect x="481" y="571" width="1" height="1" fill="#089981"/><rect x="484" y="571" width="1" height="1" fill="#089981"/><rect x="487" y="571" width="1" height="1" fill="#089981"/><rect x="490" y="571" width="1" height="1" fill="#089981"/><rect x="493" y="571" width="1" height="1" fill="#089981"/><rect x="496" y="571" width="1" height="1" fill="#089981"/><rect x="499" y="571" width="1" height="1" fill="#089981"/><rect x="502" y="571" width="1" height="1" fill="#089981"/><rect x="505" y="571" width="1" height="1" fill="#089981"/><rect x="508" y="571" width="1" height="1" fill="#089981"/><rect x="511" y="571" width="1" height="1" fill="#089981"/><rect x="514" y="571" width="1" height="1" fill="#089981"/><rect x="517" y="571" width="1" height="1" fill="#089981"/><rect x="520" y="571" width="1" height="1" fill="#089981"/><rect x="523" y="571" width="1" height="1" fill="#089981"/><rect x="526" y="571" width="1" height="1" fill="#089981"/><rect x="529" y="571" width="1" height="1" fill="#089981"/><rect x="532" y="571" width="1" height="1" fill="#089981"/><rect x="535" y="571" width="1" height="1" fill="#089981"/><rect x="538" y="571" width="1" height="1" fill="#089981"/><rect x="541" y="571" width="1" height="1" fill="#089981"/><rect x="544" y="571" width="1" height="1" fill="#089981"/><rect x="547" y="571" width="1" height="1" fill="#089981"/><rect x="550" y="571" width="1" height="1" fill="#089981"/><rect x="553" y="571" width="1" height="1" fill="#089981"/><rect x="556" y="571" width="1" height="1" fill="#089981"/><rect x="559" y="571" width="1" height="1" fill="#089981"/><rect x="562" y="571" width="1" height="1" fill="#089981"/><rect x="565" y="571" width="1" height="1" fill="#089981"/><rect x="568" y="571" width="1" height="1" fill="#089981"/><rect x="571" y="571" width="1" height="1" fill="#089981"/><rect x="574" y="571" width="1" height="1" fill="#089981"/><rect x="577" y="571" width="1" height="1" fill="#089981"/><rect x="580" y="571" width="1" height="1" fill="#089981"/><rect x="583" y="571" width="1" height="1" fill="#089981"/><rect x="586" y="571" width="1" height="1" fill="#089981"/><rect x="589" y="571" width="1" height="1" fill="#089981"/><rect x="592" y="571" width="1" height="1" fill="#089981"/><rect x="595" y="571" width="1" height="1" fill="#089981"/><rect x="598" y="571" width="1" height="1" fill="#089981"/><rect x="601" y="571" width="1" height="1" fill="#089981"/><rect x="604" y="571" width="1" height="1" fill="#089981"/><rect x="607" y="571" width="1" height="1" fill="#089981"/><rect x="610" y="571" width="1" height="1" fill="#089981"/><rect x="613" y="571" width="1" height="1" fill="#089981"/><rect x="616" y="571" width="1" height="1" fill="#089981"/><rect x="619" y="571" width="1" height="1" fill="#089981"/><rect x="622" y="571" width="1" height="1" fill="#089981"/><rect x="625" y="571" width="1" height="1" fill="#089981"/><rect x="628" y="571" width="1" height="1" fill="#089981"/><rect x="631" y="571" width="1" height="1" fill="#089981"/><rect x="634" y="571" width="1" height="1" fill="#089981"/><rect x="637" y="571" width="1" height="1" fill="#089981"/><rect x="640" y="571" width="1" height="1" fill="#089981"/><rect x="643" y="571" width="1" height="1" fill="#089981"/><rect x="646" y="571" width="1" height="1" fill="#089981"/><rect x="649" y="571" width="1" height="1" fill="#089981"/><rect x="652" y="571" width="1" height="1" fill="#089981"/><rect x="655" y="571" width="1" height="1" fill="#089981"/><rect x="658" y="571" width="1" height="1" fill="#089981"/><rect x="661" y="571" width="1" height="1" fill="#089981"/><rect x="664" y="571" width="1" height="1" fill="#089981"/><rect x="667" y="571" width="1" height="1" fill="#089981"/><rect x="670" y="571" width="1" height="1" fill="#089981"/><rect x="673" y="571" width="1" height="1" fill="#089981"/><rect x="676" y="571" width="1" height="1" fill="#089981"/><rect x="679" y="571" width="1" height="1" fill="#089981"/><rect x="682" y="571" width="1" height="1" fill="#089981"/><rect x="685" y="571" width="1" height="1" fill="#089981"/><rect x="688" y="571" width="1" height="1" fill="#089981"/><rect x="691" y="571" width="1" height="1" fill="#089981"/><rect x="694" y="571" width="1" height="1" fill="#089981"/><rect x="697" y="571" width="1" height="1" fill="#089981"/><rect x="700" y="571" width="1" height="1" fill="#089981"/><rect x="703" y="571" width="1" height="1" fill="#089981"/><rect x="706" y="571" width="1" height="1" fill="#089981"/><rect x="709" y="571" width="1" height="1" fill="#089981"/><rect x="712" y="571" width="1" height="1" fill="#089981"/><rect x="715" y="571" width="1" height="1" fill="#089981"/><rect x="718" y="571" width="1" height="1" fill="#089981"/><rect x="721" y="571" width="1" height="1" fill="#089981"/><rect x="724" y="571" width="1" height="1" fill="#089981"/><rect x="727" y="571" width="1" height="1" fill="#089981"/><rect x="730" y="571" width="1" height="1" fill="#089981"/><rect x="733" y="571" width="1" height="1" fill="#089981"/><rect x="736" y="571" width="1" height="1" fill="#089981"/><rect x="739" y="571" width="1" height="1" fill="#089981"/><rect x="742" y="571" width="1" height="1" fill="#089981"/><rect x="745" y="571" width="1" height="1" fill="#089981"/><rect x="748" y="571" width="1" height="1" fill="#089981"/><rect x="751" y="571" width="1" height="1" fill="#089981"/><rect x="754" y="571" width="1" height="1" fill="#089981"/><rect x="757" y="571" width="1" height="1" fill="#089981"/><rect x="760" y="571" width="1" height="1" fill="#089981"/><rect x="763" y="571" width="1" height="1" fill="#089981"/><rect x="766" y="571" width="1" height="1" fill="#089981"/><rect x="769" y="571" width="1" height="1" fill="#089981"/><rect x="772" y="571" width="1" height="1" fill="#089981"/><rect x="775" y="571" width="1" height="1" fill="#089981"/><rect x="778" y="571" width="1" height="1" fill="#089981"/><rect x="781" y="571" width="1" height="1" fill="#089981"/><rect x="784" y="571" width="1" height="1" fill="#089981"/><rect x="787" y="571" width="1" height="1" fill="#089981"/><rect x="790" y="571" width="1" height="1" fill="#089981"/><rect x="793" y="571" width="1" height="1" fill="#089981"/><rect x="796" y="571" width="1" height="1" fill="#089981"/><rect x="799" y="571" width="1" height="1" fill="#089981"/><rect x="802" y="571" width="1" height="1" fill="#089981"/><rect x="805" y="571" width="1" height="1" fill="#089981"/><rect x="808" y="571" width="1" height="1" fill="#089981"/><rect x="811" y="571" width="1" height="1" fill="#089981"/><rect x="814" y="571" width="1" height="1" fill="#089981"/><rect x="817" y="571" width="1" height="1" fill="#089981"/><rect x="820" y="571" width="1" height="1" fill="#089981"/><rect x="823" y="571" width="1" height="1" fill="#089981"/><rect x="826" y="571" width="1" height="1" fill="#089981"/><rect x="829" y="571" width="1" height="1" fill="#089981"/><rect x="832" y="571" width="1" height="1" fill="#089981"/><rect x="835" y="571" width="1" height="1" fill="#089981"/><rect x="838" y="571" width="1" height="1" fill="#089981"/><rect x="841" y="571" width="1" height="1" fill="#089981"/><rect x="844" y="571" width="1" height="1" fill="#089981"/><rect x="847" y="571" width="1" height="1" fill="#089981"/><rect x="850" y="571" width="1" height="1" fill="#089981"/><rect x="853" y="571" width="1" height="1" fill="#089981"/><rect x="856" y="571" width="1" height="1" fill="#089981"/><rect x="859" y="571" width="1" height="1" fill="#089981"/><rect x="862" y="571" width="1" height="1" fill="#089981"/><rect x="865" y="571" width="1" height="1" fill="#089981"/><rect x="868" y="571" width="1" height="1" fill="#089981"/><rect x="871" y="571" width="1" height="1" fill="#089981"/><rect x="874" y="571" width="1" height="1" fill="#089981"/><rect x="877" y="571" width="1" height="1" fill="#089981"/><rect x="880" y="571" width="1" height="1" fill="#089981"/><rect x="883" y="571" width="1" height="1" fill="#089981"/><rect x="886" y="571" width="1" height="1" fill="#089981"/><rect x="889" y="571" width="1" height="1" fill="#089981"/><rect x="892" y="571" width="1" height="1" fill="#089981"/><rect x="895" y="571" width="1" height="1" fill="#089981"/><rect x="898" y="571" width="1" height="1" fill="#089981"/><rect x="901" y="571" width="1" height="1" fill="#089981"/><rect x="904" y="571" width="1" height="1" fill="#089981"/><rect x="907" y="571" width="1" height="1" fill="#089981"/><rect x="910" y="571" width="1" height="1" fill="#089981"/><rect x="913" y="571" width="1" height="1" fill="#089981"/><rect x="916" y="571" width="1" height="1" fill="#089981"/><rect x="919" y="571" width="1" height="1" fill="#089981"/><rect x="922" y="571" width="1" height="1" fill="#089981"/><rect x="925" y="571" width="1" height="1" fill="#089981"/><rect x="928" y="571" width="1" height="1" fill="#089981"/><rect x="931" y="571" width="1" height="1" fill="#089981"/><rect x="934" y="571" width="1" height="1" fill="#089981"/><rect x="937" y="571" width="1" height="1" fill="#089981"/><rect x="940" y="571" width="1" height="1" fill="#089981"/><rect x="943" y="571" width="1" height="1" fill="#089981"/><rect x="946" y="571" width="1" height="1" fill="#089981"/><rect x="949" y="571" width="1" height="1" fill="#089981"/><rect x="952" y="571" width="1" height="1" fill="#089981"/><rect x="955" y="571" width="1" height="1" fill="#089981"/><rect x="958" y="571" width="1" height="1" fill="#089981"/><rect x="961" y="571" width="1" height="1" fill="#089981"/><rect x="964" y="571" width="1" height="1" fill="#089981"/><rect x="967" y="571" width="1" height="1" fill="#089981"/><rect x="970" y="571" width="1" height="1" fill="#089981"/><rect x="973" y="571" width="1" height="1" fill="#089981"/><rect x="976" y="571" width="1" height="1" fill="#089981"/><rect x="979" y="571" width="1" height="1" fill="#089981"/><rect x="982" y="571" width="1" height="1" fill="#089981"/><rect x="985" y="571" width="1" height="1" fill="#089981"/><rect x="988" y="571" width="1" height="1" fill="#089981"/><rect x="991" y="571" width="1" height="1" fill="#089981"/><rect x="994" y="571" width="1" height="1" fill="#089981"/><rect x="997" y="571" width="1" height="1" fill="#089981"/><rect x="1000" y="571" width="1" height="1" fill="#089981"/><rect x="1003" y="571" width="1" height="1" fill="#089981"/><rect x="1006" y="571" width="1" height="1" fill="#089981"/><rect x="1009" y="571" width="1" height="1" fill="#089981"/><rect x="1012" y="571" width="1" height="1" fill="#089981"/><rect x="1015" y="571" width="1" height="1" fill="#089981"/><rect x="1018" y="571" width="1" height="1" fill="#089981"/><rect x="1021" y="571" width="1" height="1" fill="#089981"/><rect x="1024" y="571" width="1" height="1" fill="#089981"/><rect x="1027" y="571" width="1" height="1" fill="#089981"/><rect x="1030" y="571" width="1" height="1" fill="#089981"/><rect x="1033" y="571" width="1" height="1" fill="#089981"/><rect x="1036" y="571" width="1" height="1" fill="#089981"/><rect x="1039" y="571" width="1" height="1" fill="#089981"/><rect x="1042" y="571" width="1" height="1" fill="#089981"/><rect x="1045" y="571" width="1" height="1" fill="#089981"/><rect x="1048" y="571" width="1" height="1" fill="#089981"/><rect x="1051" y="571" width="1" height="1" fill="#089981"/><rect x="1054" y="571" width="1" height="1" fill="#089981"/><rect x="1057" y="571" width="1" height="1" fill="#089981"/><rect x="1060" y="571" width="1" height="1" fill="#089981"/><rect x="1063" y="571" width="1" height="1" fill="#089981"/><rect x="1066" y="571" width="1" height="1" fill="#089981"/><rect x="1069" y="571" width="1" height="1" fill="#089981"/><rect x="1072" y="571" width="1" height="1" fill="#089981"/><rect x="1075" y="571" width="1" height="1" fill="#089981"/><rect x="1078" y="571" width="1" height="1" fill="#089981"/><rect x="1081" y="571" width="1" height="1" fill="#089981"/><rect x="1084" y="571" width="1" height="1" fill="#089981"/><rect x="1087" y="571" width="1" height="1" fill="#089981"/><rect x="1090" y="571" width="1" height="1" fill="#089981"/><rect x="1093" y="571" width="1" height="1" fill="#089981"/><rect x="1096" y="571" width="1" height="1" fill="#089981"/><rect x="1099" y="571" width="1" height="1" fill="#089981"/><rect x="1102" y="571" width="1" height="1" fill="#089981"/><rect x="1105" y="571" width="1" height="1" fill="#089981"/><rect x="1108" y="571" width="1" height="1" fill="#089981"/><rect x="1111" y="571" width="1" height="1" fill="#089981"/><rect x="1114" y="571" width="1" height="1" fill="#089981"/><rect x="1117" y="571" width="1" height="1" fill="#089981"/><rect x="1120" y="571" width="1" height="1" fill="#089981"/><rect x="1123" y="571" width="1" height="1" fill="#089981"/><rect x="1126" y="571" width="1" height="1" fill="#089981"/><rect x="1129" y="571" width="1" height="1" fill="#089981"/><rect x="1132" y="571" width="1" height="1" fill="#089981"/><rect x="1135" y="571" width="1" height="1" fill="#089981"/><rect x="1138" y="571" width="1" height="1" fill="#089981"/><rect x="1141" y="571" width="1" height="1" fill="#089981"/><rect x="1144" y="571" width="1" height="1" fill="#089981"/><rect x="1147" y="571" width="1" height="1" fill="#089981"/><rect x="1150" y="571" width="1" height="1" fill="#089981"/><rect x="1153" y="571" width="1" height="1" fill="#089981"/><rect x="1156" y="571" width="1" height="1" fill="#089981"/><rect x="1159" y="571" width="1" height="1" fill="#089981"/><rect x="1162" y="571" width="1" height="1" fill="#089981"/><rect x="1165" y="571" width="1" height="1" fill="#089981"/><rect x="1168" y="571" width="1" height="1" fill="#089981"/><rect x="1171" y="571" width="1" height="1" fill="#089981"/><rect x="1174" y="571" width="1" height="1" fill="#089981"/><rect x="1177" y="571" width="1" height="1" fill="#089981"/><rect x="1180" y="571" width="1" height="1" fill="#089981"/><rect x="1183" y="571" width="1" height="1" fill="#089981"/><rect x="1186" y="571" width="1" height="1" fill="#089981"/><rect x="1189" y="571" width="1" height="1" fill="#089981"/><rect x="1192" y="571" width="1" height="1" fill="#089981"/><rect x="1195" y="571" width="1" height="1" fill="#089981"/><rect x="1198" y="571" width="1" height="1" fill="#089981"/><rect x="1201" y="571" width="1" height="1" fill="#089981"/><rect x="1204" y="571" width="1" height="1" fill="#089981"/><rect x="1207" y="571" width="1" height="1" fill="#089981"/><rect x="1210" y="571" width="1" height="1" fill="#089981"/><rect x="1213" y="571" width="1" height="1" fill="#089981"/><rect x="1216" y="571" width="1" height="1" fill="#089981"/><rect x="1219" y="571" width="1" height="1" fill="#089981"/><rect x="1222" y="571" width="1" height="1" fill="#089981"/><rect x="1225" y="571" width="1" height="1" fill="#089981"/><rect x="1228" y="571" width="1" height="1" fill="#089981"/><rect x="1231" y="571" width="1" height="1" fill="#089981"/><rect x="1234" y="571" width="1" height="1" fill="#089981"/><rect x="1237" y="571" width="1" height="1" fill="#089981"/><rect x="1240" y="571" width="1" height="1" fill="#089981"/><rect x="1243" y="571" width="1" height="1" fill="#089981"/><rect x="1246" y="571" width="1" height="1" fill="#089981"/><rect x="1249" y="571" width="1" height="1" fill="#089981"/><rect x="1252" y="571" width="1" height="1" fill="#089981"/><rect x="1255" y="571" width="1" height="1" fill="#089981"/><rect x="1258" y="571" width="1" height="1" fill="#089981"/><rect x="1261" y="571" width="1" height="1" fill="#089981"/><rect x="1264" y="571" width="1" height="1" fill="#089981"/><rect x="1267" y="571" width="1" height="1" fill="#089981"/><rect x="1270" y="571" width="1" height="1" fill="#089981"/><rect x="1273" y="571" width="1" height="1" fill="#089981"/><rect x="1276" y="571" width="1" height="1" fill="#089981"/><rect x="1279" y="571" width="1" height="1" fill="#089981"/><rect x="1282" y="571" width="1" height="1" fill="#089981"/><rect x="1285" y="571" width="1" height="1" fill="#089981"/><rect x="1288" y="571" width="1" height="1" fill="#089981"/><rect x="1291" y="571" width="1" height="1" fill="#089981"/><rect x="1294" y="571" width="1" height="1" fill="#089981"/><rect x="1297" y="571" width="1" height="1" fill="#089981"/><rect x="1300" y="571" width="1" height="1" fill="#089981"/><rect x="1303" y="571" width="1" height="1" fill="#089981"/><rect x="1306" y="571" width="1" height="1" fill="#089981"/><rect x="1309" y="571" width="1" height="1" fill="#089981"/><rect x="1312" y="571" width="1" height="1" fill="#089981"/><rect x="1315" y="571" width="1" height="1" fill="#089981"/><rect x="1318" y="571" width="1" height="1" fill="#089981"/><rect x="1321" y="571" width="1" height="1" fill="#089981"/><rect x="1324" y="571" width="1" height="1" fill="#089981"/><rect x="1327" y="571" width="1" height="1" fill="#089981"/><rect x="1330" y="571" width="1" height="1" fill="#089981"/><rect x="1333" y="571" width="1" height="1" fill="#089981"/><rect x="1336" y="571" width="1" height="1" fill="#089981"/><rect x="1339" y="571" width="1" height="1" fill="#089981"/><rect x="1342" y="571" width="1" height="1" fill="#089981"/><rect x="1345" y="571" width="1" height="1" fill="#089981"/><rect x="1348" y="571" width="1" height="1" fill="#089981"/><rect x="1351" y="571" width="1" height="1" fill="#089981"/><rect x="1354" y="571" width="1" height="1" fill="#089981"/><rect x="1357" y="571" width="1" height="1" fill="#089981"/><rect x="1360" y="571" width="1" height="1" fill="#089981"/><rect x="1363" y="571" width="1" height="1" fill="#089981"/><rect x="1366" y="571" width="1" height="1" fill="#089981"/><rect x="1369" y="571" width="1" height="1" fill="#089981"/><rect x="1372" y="571" width="1" height="1" fill="#089981"/><rect x="1375" y="571" width="1" height="1" fill="#089981"/><rect x="1378" y="571" width="1" height="1" fill="#089981"/><rect x="1381" y="571" width="1" height="1" fill="#089981"/><rect x="1384" y="571" width="1" height="1" fill="#089981"/><rect x="1387" y="571" width="1" height="1" fill="#089981"/><rect x="1390" y="571" width="1" height="1" fill="#089981"/><rect x="1393" y="571" width="1" height="1" fill="#089981"/><rect x="1396" y="571" width="1" height="1" fill="#089981"/><rect x="1399" y="571" width="1" height="1" fill="#089981"/><rect x="1402" y="571" width="1" height="1" fill="#089981"/><rect x="1405" y="571" width="1" height="1" fill="#089981"/><rect x="1408" y="571" width="1" height="1" fill="#089981"/><rect x="1411" y="571" width="1" height="1" fill="#089981"/><rect x="1414" y="571" width="1" height="1" fill="#089981"/><rect x="1417" y="571" width="1" height="1" fill="#089981"/><rect x="1420" y="571" width="1" height="1" fill="#089981"/><rect x="1423" y="571" width="1" height="1" fill="#089981"/><rect x="1426" y="571" width="1" height="1" fill="#089981"/><rect x="1429" y="571" width="1" height="1" fill="#089981"/><rect x="1432" y="571" width="1" height="1" fill="#089981"/><rect x="1435" y="571" width="1" height="1" fill="#089981"/><rect x="1438" y="571" width="1" height="1" fill="#089981"/><rect x="1441" y="571" width="1" height="1" fill="#089981"/><rect x="1444" y="571" width="1" height="1" fill="#089981"/><rect x="1447" y="571" width="1" height="1" fill="#089981"/><rect x="1450" y="571" width="1" height="1" fill="#089981"/><rect x="1453" y="571" width="1" height="1" fill="#089981"/><rect x="1456" y="571" width="1" height="1" fill="#089981"/><rect x="1459" y="571" width="1" height="1" fill="#089981"/><rect x="1462" y="571" width="1" height="1" fill="#089981"/><rect x="1465" y="571" width="1" height="1" fill="#089981"/><rect x="1468" y="571" width="1" height="1" fill="#089981"/><rect x="1471" y="571" width="1" height="1" fill="#089981"/><rect x="1474" y="571" width="1" height="1" fill="#089981"/><rect x="1477" y="571" width="1" height="1" fill="#089981"/><rect x="1480" y="571" width="1" height="1" fill="#089981"/><rect x="1483" y="571" width="1" height="1" fill="#089981"/><rect x="1486" y="571" width="1" height="1" fill="#089981"/><rect x="1489" y="571" width="1" height="1" fill="#089981"/><rect x="1492" y="571" width="1" height="1" fill="#089981"/><rect x="1495" y="571" width="1" height="1" fill="#089981"/><rect x="1498" y="571" width="1" height="1" fill="#089981"/><rect x="1501" y="571" width="1" height="1" fill="#089981"/><rect x="1504" y="571" width="1" height="1" fill="#089981"/><rect x="1507" y="571" width="1" height="1" fill="#089981"/><rect x="1510" y="571" width="1" height="1" fill="#089981"/><rect x="1513" y="571" width="1" height="1" fill="#089981"/><rect x="1516" y="571" width="1" height="1" fill="#089981"/><rect x="1519" y="571" width="1" height="1" fill="#089981"/><rect x="1522" y="571" width="1" height="1" fill="#089981"/><rect x="1525" y="571" width="1" height="1" fill="#089981"/><rect x="1528" y="571" width="1" height="1" fill="#089981"/><rect x="1531" y="571" width="1" height="1" fill="#089981"/><rect x="1534" y="571" width="1" height="1" fill="#089981"/><rect x="1537" y="571" width="1" height="1" fill="#089981"/><rect x="1540" y="571" width="1" height="1" fill="#089981"/><rect x="1543" y="571" width="1" height="1" fill="#089981"/><rect x="1546" y="571" width="1" height="1" fill="#089981"/><rect x="1549" y="571" width="1" height="1" fill="#089981"/><rect x="1552" y="571" width="1" height="1" fill="#089981"/><rect x="1555" y="571" width="1" height="1" fill="#089981"/><rect x="1558" y="571" width="1" height="1" fill="#089981"/><rect x="1561" y="571" width="1" height="1" fill="#089981"/><rect x="1564" y="571" width="1" height="1" fill="#089981"/><rect x="1567" y="571" width="1" height="1" fill="#089981"/><rect x="1570" y="571" width="1" height="1" fill="#089981"/><rect x="1573" y="571" width="1" height="1" fill="#089981"/><rect x="1576" y="571" width="1" height="1" fill="#089981"/><rect x="1579" y="571" width="1" height="1" fill="#089981"/><rect x="1582" y="571" width="1" height="1" fill="#089981"/><rect x="1585" y="571" width="1" height="1" fill="#089981"/><rect x="1588" y="571" width="1" height="1" fill="#089981"/><rect x="1591" y="571" width="1" height="1" fill="#089981"/><rect x="1594" y="571" width="1" height="1" fill="#089981"/><rect x="1597" y="571" width="1" height="1" fill="#089981"/><rect x="1600" y="571" width="1" height="1" fill="#089981"/><rect x="1603" y="571" width="1" height="1" fill="#089981"/><rect x="1606" y="571" width="1" height="1" fill="#089981"/><rect x="1609" y="571" width="1" height="1" fill="#089981"/><rect x="1612" y="571" width="1" height="1" fill="#089981"/><rect x="1615" y="571" width="1" height="1" fill="#089981"/><rect x="1618" y="571" width="1" height="1" fill="#089981"/><rect x="1621" y="571" width="1" height="1" fill="#089981"/><rect x="1624" y="571" width="1" height="1" fill="#089981"/><rect x="1627" y="571" width="1" height="1" fill="#089981"/><rect x="1630" y="571" width="1" height="1" fill="#089981"/><rect x="1633" y="571" width="1" height="1" fill="#089981"/><rect x="1636" y="571" width="1" height="1" fill="#089981"/><rect x="1639" y="571" width="1" height="1" fill="#089981"/><rect x="1642" y="571" width="1" height="1" fill="#089981"/><rect x="1645" y="571" width="1" height="1" fill="#089981"/><rect x="1648" y="571" width="1" height="1" fill="#089981"/><rect x="1651" y="571" width="1" height="1" fill="#089981"/><rect x="1654" y="571" width="1" height="1" fill="#089981"/><rect x="1657" y="571" width="1" height="1" fill="#089981"/><rect x="1660" y="571" width="1" height="1" fill="#089981"/><rect x="1663" y="571" width="1" height="1" fill="#089981"/><rect x="1666" y="571" width="1" height="1" fill="#089981"/><rect x="1669" y="571" width="1" height="1" fill="#089981"/><rect x="1672" y="571" width="1" height="1" fill="#089981"/><rect x="1675" y="571" width="1" height="1" fill="#089981"/><rect x="1678" y="571" width="1" height="1" fill="#089981"/><rect x="1681" y="571" width="1" height="1" fill="#089981"/><rect x="1684" y="571" width="1" height="1" fill="#089981"/><rect x="1687" y="571" width="1" height="1" fill="#089981"/><rect x="1690" y="571" width="1" height="1" fill="#089981"/><rect x="1693" y="571" width="1" height="1" fill="#089981"/><rect x="1696" y="571" width="1" height="1" fill="#089981"/><rect x="1699" y="571" width="1" height="1" fill="#089981"/><rect x="1702" y="571" width="1" height="1" fill="#089981"/><rect x="1705" y="571" width="1" height="1" fill="#089981"/><rect x="1708" y="571" width="1" height="1" fill="#089981"/><rect x="1711" y="571" width="1" height="1" fill="#089981"/><rect x="1714" y="571" width="1" height="1" fill="#089981"/><rect x="1717" y="571" width="1" height="1" fill="#089981"/><rect x="1720" y="571" width="1" height="1" fill="#089981"/><rect x="1723" y="571" width="1" height="1" fill="#089981"/><rect x="1726" y="571" width="1" height="1" fill="#089981"/><rect x="1729" y="571" width="1" height="1" fill="#089981"/><rect x="1732" y="571" width="1" height="1" fill="#089981"/><rect x="1735" y="571" width="1" height="1" fill="#089981"/><rect x="1738" y="571" width="1" height="1" fill="#089981"/><rect x="1741" y="571" width="1" height="1" fill="#089981"/><rect x="1744" y="571" width="1" height="1" fill="#089981"/><rect x="1747" y="571" width="1" height="1" fill="#089981"/>
</g>
<line x1="419.6" y1="305.4" x2="1286.8" y2="518.3" stroke="#9c27b0" stroke-width="2" stroke-linecap="round"/>
<line x1="578" y1="704" x2="1272.1" y2="644.3" stroke="#9c27b0" stroke-width="2" stroke-linecap="round"/>
<g shape-rendering="crispEdges">
<rect x="1228" y="156" width="187" height="1" fill="#43ef2a"/>
<rect x="1228" y="571" width="187" height="1" fill="#43ef2a"/>
<rect x="1322" y="157" width="1" height="414" fill="#43ef2a"/>
</g>
<polyline points="1317,162 1322.5,156.8 1328,162" fill="none" stroke="#43ef2a" stroke-width="1"/>
<text x="1322.5" y="140" font-size="9.6" fill="#131722" stroke="#131722" stroke-width="0.2" text-anchor="middle" textLength="104" lengthAdjust="spacingAndGlyphs">986.22 (32.72%) 98,622</text>
<circle cx="1228.4" cy="746.3" r="11" fill="#fff"/>
<circle cx="1228.4" cy="746.3" r="9.6" fill="none" stroke="#9c27b0" stroke-width="1.5"/>
<path d="M1231.0,741.0 L1224.2,746.9 L1228.9,746.9 L1225.0,752.0 L1232.4,746.0 L1227.8,746.0 Z" fill="#9c27b0" stroke="#9c27b0" stroke-width="0.7" stroke-linejoin="round"/>
<circle cx="1235.5" cy="739.6" r="3.8" fill="#fff"/>
<circle cx="1235.5" cy="739.6" r="2.6" fill="#f23645"/>
<g font-size="12.5">
<text x="18.099999999999998" y="46" fill="#131722" textLength="51.8" lengthAdjust="spacingAndGlyphs">Ethereum</text>
<text x="74.4" y="46" fill="#131722" textLength="5.2" lengthAdjust="spacingAndGlyphs">/</text>
<text x="83.4" y="46" fill="#131722" textLength="48.500000000000014" lengthAdjust="spacingAndGlyphs">TetherUS</text>
<circle cx="137.55" cy="41.5" r="0.95" fill="#131722"/>
<text x="143.1" y="46" fill="#131722" textLength="14.300000000000022" lengthAdjust="spacingAndGlyphs">1D</text>
<circle cx="162.64999999999998" cy="41.5" r="0.95" fill="#131722"/>
<text x="167.9" y="46" fill="#131722" textLength="43.000000000000014" lengthAdjust="spacingAndGlyphs">Binance</text>
<text x="218" y="46" fill="#131722" textLength="7" lengthAdjust="spacingAndGlyphs">O</text>
<text x="225.8" y="46" fill="#089981" textLength="46.7" lengthAdjust="spacingAndGlyphs">3,004.19</text>
<text x="279.4" y="46" fill="#131722" textLength="7.6" lengthAdjust="spacingAndGlyphs">H</text>
<text x="288.6" y="46" fill="#089981" textLength="45.4" lengthAdjust="spacingAndGlyphs">3,035.00</text>
<text x="341.5" y="46" fill="#131722" textLength="5.8" lengthAdjust="spacingAndGlyphs">L</text>
<text x="348.4" y="46" fill="#089981" textLength="44.9" lengthAdjust="spacingAndGlyphs">2,992.49</text>
<text x="401.4" y="46" fill="#131722" textLength="6.9" lengthAdjust="spacingAndGlyphs">C</text>
<text x="409" y="46" fill="#089981" textLength="45.3" lengthAdjust="spacingAndGlyphs">3,014.70</text>
<text x="462.8" y="46" fill="#089981" textLength="83.6" lengthAdjust="spacingAndGlyphs">+10.51 (+0.35%)</text>
<text x="554.4" y="46" fill="#131722" textLength="15" lengthAdjust="spacingAndGlyphs">Vol</text>
<text x="570.5" y="46" fill="#089981" textLength="38" lengthAdjust="spacingAndGlyphs">46.09 K</text>
</g>
<rect x="1753" y="31" width="58" height="26" rx="4" fill="#fff" stroke="#eceef2" stroke-width="1"/>
<text x="1762.3" y="48.5" font-size="12" fill="#131722" textLength="27.4" lengthAdjust="spacingAndGlyphs">USDT</text>
<text x="1804.4" y="88.6" font-size="12" fill="#131722" text-anchor="end">4,200.00</text>
<text x="1804.4" y="123.6" font-size="12" fill="#131722" text-anchor="end">4,100.00</text>
<text x="1804.4" y="196.6" font-size="12" fill="#131722" text-anchor="end">3,900.00</text>
<text x="1804.4" y="274.6" font-size="12" fill="#131722" text-anchor="end">3,700.00</text>
<text x="1804.4" y="347.6" font-size="12" fill="#131722" text-anchor="end">3,520.00</text>
<text x="1804.4" y="415.6" font-size="12" fill="#131722" text-anchor="end">3,360.00</text>
<text x="1804.4" y="486.6" font-size="12" fill="#131722" text-anchor="end">3,200.00</text>
<text x="1804.4" y="559.6" font-size="12" fill="#131722" text-anchor="end">3,045.00</text>
<text x="1804.4" y="638.6" font-size="12" fill="#131722" text-anchor="end">2,885.00</text>
<text x="1804.4" y="669.6" font-size="12" fill="#131722" text-anchor="end">2,825.00</text>
<text x="1804.4" y="700.6" font-size="12" fill="#131722" text-anchor="end">2,765.00</text>
<text x="1804.4" y="732.6" font-size="12" fill="#131722" text-anchor="end">2,705.00</text>
<path d="M1750,93.0 H1807.5 Q1810,93.0 1810,95.5 V107.5 Q1810,110.0 1807.5,110.0 H1750 Z" fill="#000"/><text x="1804.4" y="105.1" font-size="12" fill="#fff" text-anchor="end" stroke="#fff" stroke-width="0.3">4,154.72</text>
<path d="M1750,222.0 H1807.5 Q1810,222.0 1810,224.5 V236.5 Q1810,239.0 1807.5,239.0 H1750 Z" fill="#000"/><text x="1804.4" y="234.1" font-size="12" fill="#fff" text-anchor="end" stroke="#fff" stroke-width="0.3">3,802.94</text>
<path d="M1750,300.0 H1807.5 Q1810,300.0 1810,302.5 V314.5 Q1810,317.0 1807.5,317.0 H1750 Z" fill="#000"/><text x="1804.4" y="312.1" font-size="12" fill="#fff" text-anchor="end" stroke="#fff" stroke-width="0.3">3,607.85</text>
<path d="M1750,365.5 H1807.5 Q1810,365.5 1810,368.0 V380.0 Q1810,382.5 1807.5,382.5 H1750 Z" fill="#000"/><text x="1804.4" y="377.6" font-size="12" fill="#fff" text-anchor="end" stroke="#fff" stroke-width="0.3">3,447.44</text>
<path d="M1750,435.0 H1807.5 Q1810,435.0 1810,437.5 V449.5 Q1810,452.0 1807.5,452.0 H1750 Z" fill="#000"/><text x="1804.4" y="447.1" font-size="12" fill="#fff" text-anchor="end" stroke="#fff" stroke-width="0.3">3,287.61</text>
<path d="M1750,506.5 H1807.5 Q1810,506.5 1810,509.0 V521.0 Q1810,523.5 1807.5,523.5 H1750 Z" fill="#000"/><text x="1804.4" y="518.6" font-size="12" fill="#fff" text-anchor="end" stroke="#fff" stroke-width="0.3">3,131.33</text>
<path d="M1750,618.0 H1807.5 Q1810,618.0 1810,620.5 V632.5 Q1810,635.0 1807.5,635.0 H1750 Z" fill="#000"/><text x="1804.4" y="630.1" font-size="12" fill="#fff" text-anchor="end" stroke="#fff" stroke-width="0.3">2,902.36</text>
<path d="M1750,672.8 H1807.5 Q1810,672.8 1810,675.3 V687.3 Q1810,689.8 1807.5,689.8 H1750 Z" fill="#000"/><text x="1804.4" y="684.9" font-size="12" fill="#fff" text-anchor="end" stroke="#fff" stroke-width="0.3">2,796.72</text>
<path d="M1750,734.0 H1807.5 Q1810,734.0 1810,736.5 V748.5 Q1810,751.0 1807.5,751.0 H1750 Z" fill="#000"/><text x="1804.4" y="746.1" font-size="12" fill="#fff" text-anchor="end" stroke="#fff" stroke-width="0.3">2,681.58</text>
<path d="M1750,148.0 H1807.5 Q1810,148.0 1810,150.5 V162.5 Q1810,165.0 1807.5,165.0 H1750 Z" fill="#f23645"/><text x="1804.4" y="160.1" font-size="12" fill="#fff" text-anchor="end" stroke="#fff" stroke-width="0.3">4,000.00</text>
<path d="M1750,563 H1807.5 Q1810,563 1810,565.5 V591.5 Q1810,594 1807.5,594 H1750 Z" fill="#089981"/>
<text x="1804.4" y="574.6" font-size="12" fill="#fff" text-anchor="end" stroke="#fff" stroke-width="0.3">3,014.70</text>
<text x="1804.4" y="588.7" font-size="12" fill="#fff" text-anchor="end" stroke="#fff" stroke-width="0.3">18:51:28</text>
<path d="M1750,594 H1807.5 Q1810,594 1810,596.5 V608.5 Q1810,611 1807.5,611 H1750 Z" fill="#f23645"/>
<text x="1804.4" y="606.1" font-size="12" fill="#fff" text-anchor="end" stroke="#fff" stroke-width="0.3">3,000.00</text>
<text x="59.5" y="777" font-size="12" fill="#131722" text-anchor="middle">13</text>
<text x="117.5" y="777" font-size="12" fill="#131722" text-anchor="middle">17</text>
<text x="175.5" y="777" font-size="12" fill="#131722" text-anchor="middle">21</text>
<text x="232.5" y="777" font-size="12" fill="#131722" text-anchor="middle">25</text>
<text x="333.5" y="777" font-size="12" fill="#131722" text-anchor="middle">Nov</text>
<text x="391.5" y="777" font-size="12" fill="#131722" text-anchor="middle">5</text>
<text x="449.5" y="777" font-size="12" fill="#131722" text-anchor="middle">9</text>
<text x="507.5" y="777" font-size="12" fill="#131722" text-anchor="middle">13</text>
<text x="564.5" y="777" font-size="12" fill="#131722" text-anchor="middle">17</text>
<text x="622.5" y="777" font-size="12" fill="#131722" text-anchor="middle">21</text>
<text x="680.5" y="777" font-size="12" fill="#131722" text-anchor="middle">25</text>
<text x="766.5" y="777" font-size="12" fill="#131722" text-anchor="middle">Dec</text>
<text x="824.5" y="777" font-size="12" fill="#131722" text-anchor="middle">5</text>
<text x="882.5" y="777" font-size="12" fill="#131722" text-anchor="middle">9</text>
<text x="940.5" y="777" font-size="12" fill="#131722" text-anchor="middle">13</text>
<text x="997.5" y="777" font-size="12" fill="#131722" text-anchor="middle">17</text>
<text x="1055.5" y="777" font-size="12" fill="#131722" text-anchor="middle">21</text>
<text x="1113.5" y="777" font-size="12" fill="#131722" text-anchor="middle">25</text>
<text x="1214.5" y="777" font-size="12" fill="#131722" text-anchor="middle" font-weight="bold">2026</text>
<text x="1272.5" y="777" font-size="12" fill="#131722" text-anchor="middle">5</text>
<text x="1329.5" y="777" font-size="12" fill="#131722" text-anchor="middle">9</text>
<text x="1387.5" y="777" font-size="12" fill="#131722" text-anchor="middle">13</text>
<text x="1445.5" y="777" font-size="12" fill="#131722" text-anchor="middle">17</text>
<text x="1503.5" y="777" font-size="12" fill="#131722" text-anchor="middle">21</text>
<text x="1560.5" y="777" font-size="12" fill="#131722" text-anchor="middle">25</text>
<text x="1661.5" y="777" font-size="12" fill="#131722" text-anchor="middle">Feb</text>
<text x="1719.5" y="777" font-size="12" fill="#131722" text-anchor="middle">5</text>
<g fill="#131722">
<path d="M12,809 H24 V824 H18 V815 H12 Z"/>
<circle cx="29.1" cy="812" r="2.9"/>
<path d="M33.5,809 H41.6 L36.5,824 H29.1 Z"/>
<text x="49" y="824" font-size="20.6" font-weight="bold" textLength="121" lengthAdjust="spacingAndGlyphs">TradingView</text>
</g>
</svg></body></html>
